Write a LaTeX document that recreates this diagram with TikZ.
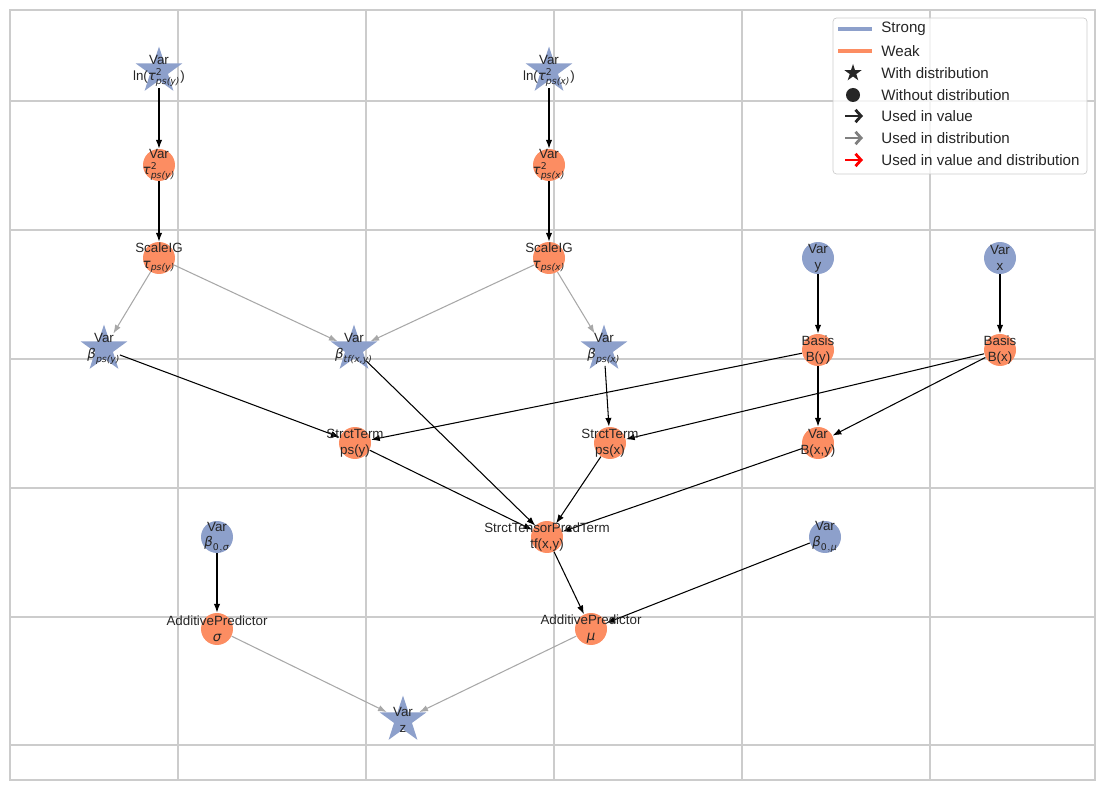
\documentclass[tikz,border=0pt]{standalone}
\usepackage{amsmath}
\usepackage{fontspec}
\setmainfont{Liberation Sans}
\newfontfamily\mitfont{DejaVu Sans}
\newcommand\mi[1]{\text{\mitfont\itshape #1}}
\newcommand\mup[1]{\text{\mitfont #1}}
\usetikzlibrary{shapes.geometric,arrows.meta}
\definecolor{strongc}{HTML}{8DA0CB}
\definecolor{weakc}{HTML}{FC8D62}
\definecolor{distc}{HTML}{A8A8A8}
\definecolor{gridc}{HTML}{CCCCCC}
\definecolor{txtc}{HTML}{262626}
\pgfdeclarelayer{bg}
\pgfdeclarelayer{edges}
\pgfsetlayers{bg,edges,main}
\tikzset{
  strong/.style={circle, fill=strongc, minimum size=0.64cm, inner sep=0pt},
  weak/.style={circle, fill=weakc, minimum size=0.64cm, inner sep=0pt},
  strongstar/.style={star, star points=5, star point ratio=2.6, fill=strongc, minimum size=0.98cm, inner sep=0pt},
  lbl/.style={align=center, font=\fontsize{7.6}{9}\selectfont, inner sep=0pt, text=txtc},
  lgd/.style={anchor=west, font=\fontsize{8.6}{10}\selectfont, inner sep=0pt, text=txtc},
  val/.style={-{Latex[length=5pt,width=3.6pt]}, line width=0.6pt},
  dist/.style={val, draw=distc},
  fromstar/.style={shorten <=0.34cm},
  tostar/.style={shorten >=0.36cm},
  lgdarrow/.style={line width=1.6pt, -{Straight Barb[length=3.2pt,width=7pt]}},
}
\begin{document}
\begin{tikzpicture}[x=0.02cm, y=-0.02cm]
  \useasboundingbox (0,0) rectangle (1105,790);
  \begin{pgfonlayer}{bg}
    \foreach \gx in {178,366,554,742,930}
      \draw[gridc, line width=0.7pt] (\gx,10) -- (\gx,780);
    \foreach \gy in {101,230,359,488,617,745}
      \draw[gridc, line width=0.7pt] (10,\gy) -- (1095,\gy);
    \draw[gridc, line width=0.7pt] (10,10) rectangle (1095,780);
  \end{pgfonlayer}

  % hyperparameters
  \node[strongstar, label={[lbl]center:{Var\\ln($\mi{τ}^{\mup{2}}_{\mi{ps(y)}}$)}}] (lnty) at (159,71) {};
  \node[strongstar, label={[lbl]center:{Var\\ln($\mi{τ}^{\mup{2}}_{\mi{ps(x)}}$)}}] (lntx) at (549,71) {};
  \node[weak, label={[lbl]center:{Var\\$\mi{τ}^{\mup{2}}_{\mi{ps(y)}}$}}] (t2y) at (159,165) {};
  \node[weak, label={[lbl]center:{Var\\$\mi{τ}^{\mup{2}}_{\mi{ps(x)}}$}}] (t2x) at (549,165) {};
  \node[weak, label={[lbl]center:{ScaleIG\\$\mi{τ}_{\mi{ps(y)}}$}}] (siy) at (159,258) {};
  \node[weak, label={[lbl]center:{ScaleIG\\$\mi{τ}_{\mi{ps(x)}}$}}] (six) at (549,258) {};
  \node[strong, label={[lbl]center:{Var\\y}}] (vy) at (818,258) {};
  \node[strong, label={[lbl]center:{Var\\x}}] (vx) at (1000,258) {};

  % coefficients and bases
  \node[strongstar, label={[lbl]center:{Var\\$\mi{β}_{\mi{ps(y)}}$}}] (bpsy) at (104,349) {};
  \node[strongstar, label={[lbl]center:{Var\\$\mi{β}_{\mi{tf(x,y)}}$}}] (btf) at (354,349) {};
  \node[strongstar, label={[lbl]center:{Var\\$\mi{β}_{\mi{ps(x)}}$}}] (bpsx) at (604,349) {};
  \node[weak, label={[lbl]center:{Basis\\B(y)}}] (by) at (818,350) {};
  \node[weak, label={[lbl]center:{Basis\\B(x)}}] (bx) at (1000,350) {};

  % terms
  \node[weak, label={[lbl]center:{StrctTerm\\ps(y)}}] (psy) at (355,443) {};
  \node[weak, label={[lbl]center:{StrctTerm\\ps(x)}}] (psx) at (610,443) {};
  \node[weak, label={[lbl]center:{Var\\B(x,y)}}] (bxy) at (818,443) {};
  \node[weak, label={[lbl]center:{StrctTensorPredTerm\\tf(x,y)}}] (tf) at (547,537) {};
  \node[strong, label={[lbl]center:{Var\\$\mi{β}_{\mup{0},\mi{σ}}$}}] (b0s) at (217,537) {};
  \node[strong, label={[lbl]center:{Var\\$\mi{β}_{\mup{0},\mi{μ}}$}}] (b0m) at (825,537) {};
  \node[weak, label={[lbl]center:{AdditivePredictor\\$\mi{σ}$}}] (aps) at (217,629) {};
  \node[weak, label={[lbl]center:{AdditivePredictor\\$\mi{μ}$}}] (apm) at (591,629) {};
  \node[strongstar, label={[lbl]center:{Var\\z}}] (vz) at (403,720) {};

  \begin{pgfonlayer}{edges}
    \draw[val, fromstar] (lnty.center) -- (t2y);
    \draw[val, fromstar] (lntx.center) -- (t2x);
    \draw[val] (t2y) -- (siy);
    \draw[val] (t2x) -- (six);
    \draw[val] (vy) -- (by);
    \draw[val] (vx) -- (bx);
    \draw[dist, tostar] (siy) -- (bpsy.center);
    \draw[dist, tostar] (siy) -- (btf.center);
    \draw[dist, tostar] (six) -- (btf.center);
    \draw[dist, tostar] (six) -- (bpsx.center);
    \draw[val, fromstar] (bpsy.center) -- (psy);
    \draw[val, fromstar] (bpsx.center) -- (psx);
    \draw[val] (by) -- (psy);
    \draw[val] (bx) -- (psx);
    \draw[val] (by) -- (bxy);
    \draw[val] (bx) -- (bxy);
    \draw[val, fromstar] (btf.center) -- (tf);
    \draw[val] (psy) -- (tf);
    \draw[val] (psx) -- (tf);
    \draw[val] (bxy) -- (tf);
    \draw[val] (b0s) -- (aps);
    \draw[val] (tf) -- (apm);
    \draw[val] (b0m) -- (apm);
    \draw[dist, tostar] (aps) -- (vz.center);
    \draw[dist, tostar] (apm) -- (vz.center);
  \end{pgfonlayer}

  % legend
  \draw[gridc, fill=white, fill opacity=0.8, rounded corners=2pt] (833,18) rectangle (1087,174);
  \draw[strongc, line width=2.2pt] (838,29) -- (872,29);
  \draw[weakc, line width=2.2pt] (838,51) -- (872,51);
  \node[star, star points=5, star point ratio=2.6, fill=txtc, minimum size=0.36cm, inner sep=0pt] (lstar) at (853,73) {};
  \node[circle, fill=txtc, minimum size=0.28cm, inner sep=0pt] (ldot) at (853,95) {};
  \draw[lgdarrow, txtc] (845,116) -- (863,116);
  \draw[lgdarrow, gray] (845,138) -- (863,138);
  \draw[lgdarrow, red] (845,160) -- (863,160);
  \node[lgd] (lstrong) at (881,29) {Strong};
  \node[lgd] (lweak) at (881,51) {Weak};
  \node[lgd] (lwith) at (881,73) {With distribution};
  \node[lgd] (lwithout) at (881,95) {Without distribution};
  \node[lgd] (lval) at (881,116) {Used in value};
  \node[lgd] (ldist) at (881,138) {Used in distribution};
  \node[lgd] (lboth) at (881,160) {Used in value and distribution};
\end{tikzpicture}
\end{document}
